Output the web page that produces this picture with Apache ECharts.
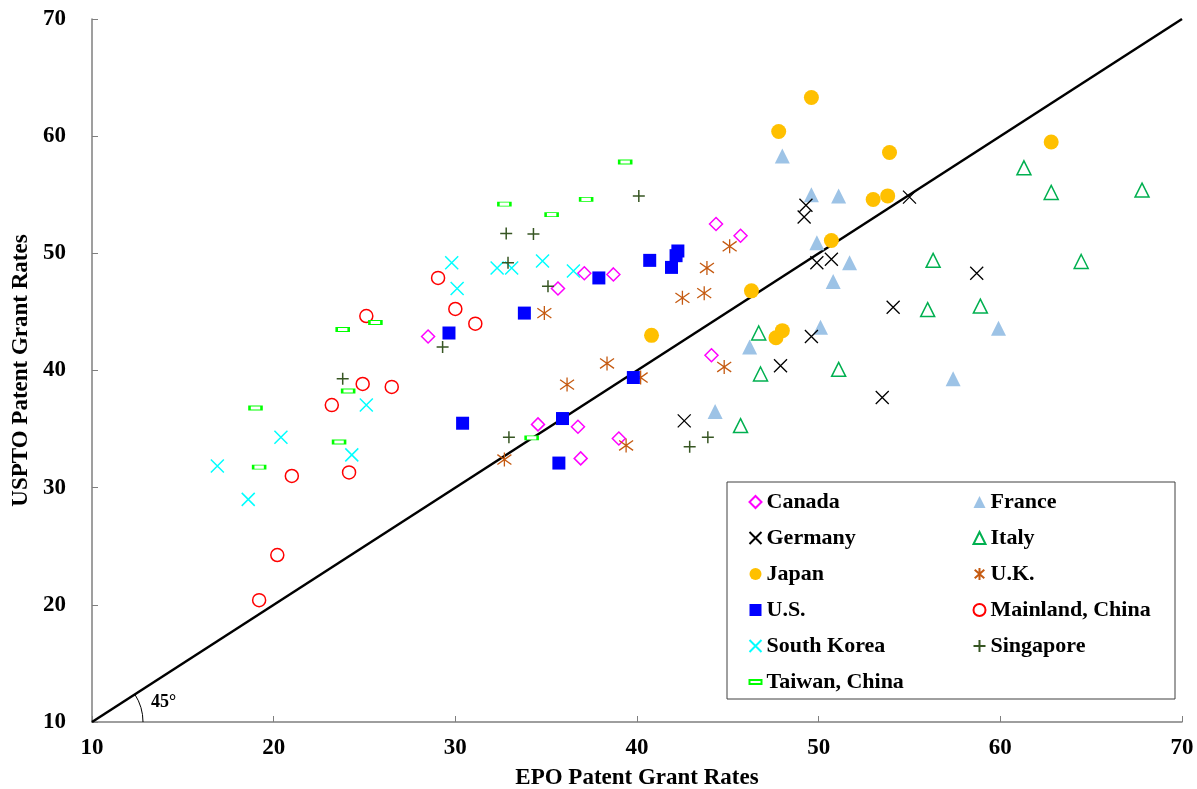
<!DOCTYPE html>
<html>
<head>
<meta charset="utf-8">
<script src="https://cdn.jsdelivr.net/npm/echarts@6/dist/echarts.min.js"></script>
<style>html,body{margin:0;padding:0;background:#fff;}#c{width:1197px;height:789px;}</style>
</head>
<body>
<div id="c"></div>
<script>
const axisTicks = [10, 20, 30, 40, 50, 60, 70];
const countries = ['Canada','France','Germany','Italy','Japan','U.K.','U.S.','Mainland, China','South Korea','Singapore','Taiwan, China'];

const canada = [[28.5,42.9],[35.65,47.0],[37.1,48.3],[38.7,48.2],[44.35,52.5],[45.7,51.5],[44.1,41.3],[34.55,35.4],[36.75,35.2],[36.9,32.5],[39.0,34.2]];
const france = [[48.0,58.3],[49.6,55.0],[51.1,54.9],[49.9,50.9],[51.7,49.2],[50.8,47.6],[50.1,43.7],[46.2,42.0],[44.3,36.5],[59.9,43.6],[57.4,39.3]];
const germany = [[49.3,54.1],[49.2,53.1],[55.0,54.8],[49.9,49.2],[50.7,49.5],[54.1,45.4],[49.6,42.9],[47.9,40.4],[53.5,37.7],[58.7,48.3],[42.6,35.7]];
const italy = [[61.3,57.3],[62.8,55.2],[67.8,55.4],[56.3,49.4],[64.45,49.3],[56.0,45.2],[58.9,45.5],[46.7,43.2],[46.8,39.7],[51.1,40.1],[45.7,35.3]];
const japan = [[49.6,63.3],[47.8,60.4],[53.9,58.6],[53.0,54.6],[53.8,54.9],[50.7,51.1],[46.3,46.8],[48.0,43.4],[47.65,42.8],[40.8,43.0],[62.8,59.5]];
const uk = [[45.1,50.6],[43.85,48.75],[43.7,46.6],[42.5,46.2],[34.9,44.9],[38.35,40.6],[36.15,38.8],[40.2,39.4],[44.8,40.3],[39.4,33.6],[32.7,32.4]];
const us = [[40.7,49.4],[41.9,48.8],[42.15,49.8],[42.25,50.2],[37.9,47.9],[33.8,44.9],[29.65,43.2],[30.4,35.5],[39.8,39.4],[35.9,35.9],[35.7,32.1]];
const mainland = [[29.05,47.9],[25.1,44.65],[30.0,45.25],[31.1,44.0],[24.9,38.85],[26.5,38.6],[23.2,37.05],[21.0,31.0],[24.15,31.3],[20.2,24.25],[19.2,20.4]];
const southKorea = [[29.8,49.2],[30.1,47.0],[32.3,48.75],[33.1,48.75],[34.8,49.35],[36.5,48.5],[25.1,37.05],[20.4,34.3],[16.9,31.85],[24.3,32.8],[18.6,29.0]];
const singapore = [[40.1,54.9],[32.8,51.7],[34.3,51.65],[32.9,49.2],[35.1,47.2],[23.8,39.3],[29.3,42.0],[32.95,34.3],[43.9,34.3],[42.9,33.5]];
const taiwan = [[39.35,57.8],[32.7,54.2],[35.3,53.3],[37.2,54.6],[25.6,44.1],[23.8,43.5],[24.1,38.25],[19.0,36.8],[23.6,33.9],[19.2,31.75],[34.2,34.25]];
const diagonal = [[10,10],[70,70]];

const FONT = 'Liberation Serif, Times New Roman, serif';
const XPATH = 'path://M0,0L10,10M10,0L0,10';
const PLUS = 'path://M5,0L5,10M0,5L10,5';
const STAR = 'path://M1,1.5L9,8.5M9,1.5L1,8.5M5,0L5,10';

function sc(name, data, symbol, size, color, opts) {
  opts = opts || {};
  return {
    name, type: 'scatter', data, symbol, symbolSize: size, z: 3,
    itemStyle: { color: opts.fill || color, borderColor: color, borderWidth: opts.bw == null ? 0 : opts.bw, opacity: 1 },
    emphasis: { disabled: true }
  };
}

const chart = echarts.init(document.getElementById('c'));
const axisText = { fontFamily: FONT, fontWeight: 'bold', fontSize: 23, color: '#000' };
const option = {
  animation: false,
  backgroundColor: '#fff',
  grid: { left: 92, right: 15, top: 19, bottom: 67, containLabel: false, outerBoundsMode: 'none' },
  xAxis: {
    type: 'value', min: axisTicks[0], max: axisTicks[axisTicks.length - 1], interval: 10,
    name: 'EPO Patent Grant Rates', nameLocation: 'middle', nameGap: 45,
    nameTextStyle: axisText,
    axisLine: { lineStyle: { color: '#7f7f7f', width: 1.5 } },
    axisTick: { inside: true, length: 6, lineStyle: { color: '#7f7f7f' } },
    axisLabel: Object.assign({ margin: 15 }, axisText),
    splitLine: { show: false }
  },
  yAxis: {
    type: 'value', min: axisTicks[0], max: axisTicks[axisTicks.length - 1], interval: 10,
    name: 'USPTO Patent Grant Rates', nameLocation: 'middle', nameGap: 52,
    nameTextStyle: axisText,
    axisLine: { show: true, lineStyle: { color: '#7f7f7f', width: 1.5 } },
    axisTick: { show: true, inside: true, length: 6, lineStyle: { color: '#7f7f7f' } },
    axisLabel: Object.assign({ margin: 26, padding: [3, 0, 0, 0] }, axisText),
    splitLine: { show: false }
  },
  legend: [
    {
      data: ['Canada','Germany','Japan','U.S.','South Korea','Taiwan, China'],
      orient: 'vertical', left: 747, top: 491, padding: 0, itemGap: 14,
      itemWidth: 12, itemHeight: 12, selectedMode: false,
      textStyle: { fontFamily: FONT, fontWeight: 'bold', fontSize: 22, color: '#000', lineHeight: 22 }
    },
    {
      data: ['France','Italy','U.K.','Mainland, China','Singapore'],
      orient: 'vertical', left: 971, top: 491, padding: 0, itemGap: 14,
      itemWidth: 12, itemHeight: 12, selectedMode: false,
      textStyle: { fontFamily: FONT, fontWeight: 'bold', fontSize: 22, color: '#000', lineHeight: 22 }
    }
  ],
  series: [
    { name: '45line', type: 'line', data: diagonal, symbol: 'none', silent: true, z: 1,
      lineStyle: { color: '#000', width: 2.5 } },
    sc(countries[0], canada, 'diamond', 13, '#FF00FF', { bw: 1.5, fill: '#fff' }),
    sc(countries[1], france, 'triangle', 15, '#9DC3E6'),
    sc(countries[2], germany, XPATH, 13, '#000000', { bw: 1.3, fill: 'none' }),
    sc(countries[3], italy, 'triangle', 14, '#00B050', { bw: 1.5, fill: '#fff' }),
    sc(countries[4], japan, 'circle', 15, '#FFC000'),
    sc(countries[5], uk, STAR, 14, '#C55A11', { bw: 1.3, fill: 'none' }),
    sc(countries[6], us, 'rect', 13, '#0000FF'),
    sc(countries[7], mainland, 'circle', 13, '#FF0000', { bw: 1.5, fill: '#fff' }),
    sc(countries[8], southKorea, XPATH, 13, '#00FFFF', { bw: 1.5, fill: 'none' }),
    sc(countries[9], singapore, PLUS, 12, '#375623', { bw: 1.5, fill: 'none' }),
    sc(countries[10], taiwan, 'path://M0,0L12,0L12,4L0,4Z', [12, 4], '#00FF00', { bw: 1.5, fill: '#fff' })
  ]
};
chart.setOption(option);

const origin = chart.convertToPixel({ gridIndex: 0 }, [10, 10]);
const far = chart.convertToPixel({ gridIndex: 0 }, [70, 70]);
const lineAngle = Math.atan2(far[1] - origin[1], far[0] - origin[0]);
chart.setOption({
  graphic: [
    { type: 'rect', shape: { x: 727, y: 482, width: 448, height: 217 }, style: { fill: 'none', stroke: '#404040', lineWidth: 1 }, z: 10 },
    { type: 'arc', shape: { cx: origin[0], cy: origin[1], r: 51, startAngle: lineAngle, endAngle: 0 }, style: { fill: 'none', stroke: '#000', lineWidth: 1 }, z: 10 },
    { type: 'text', x: origin[0] + 59, y: origin[1] - 29, style: { text: '45°', font: 'bold 18px ' + FONT, fill: '#000' }, z: 10 }
  ]
});
</script>
</body>
</html>
